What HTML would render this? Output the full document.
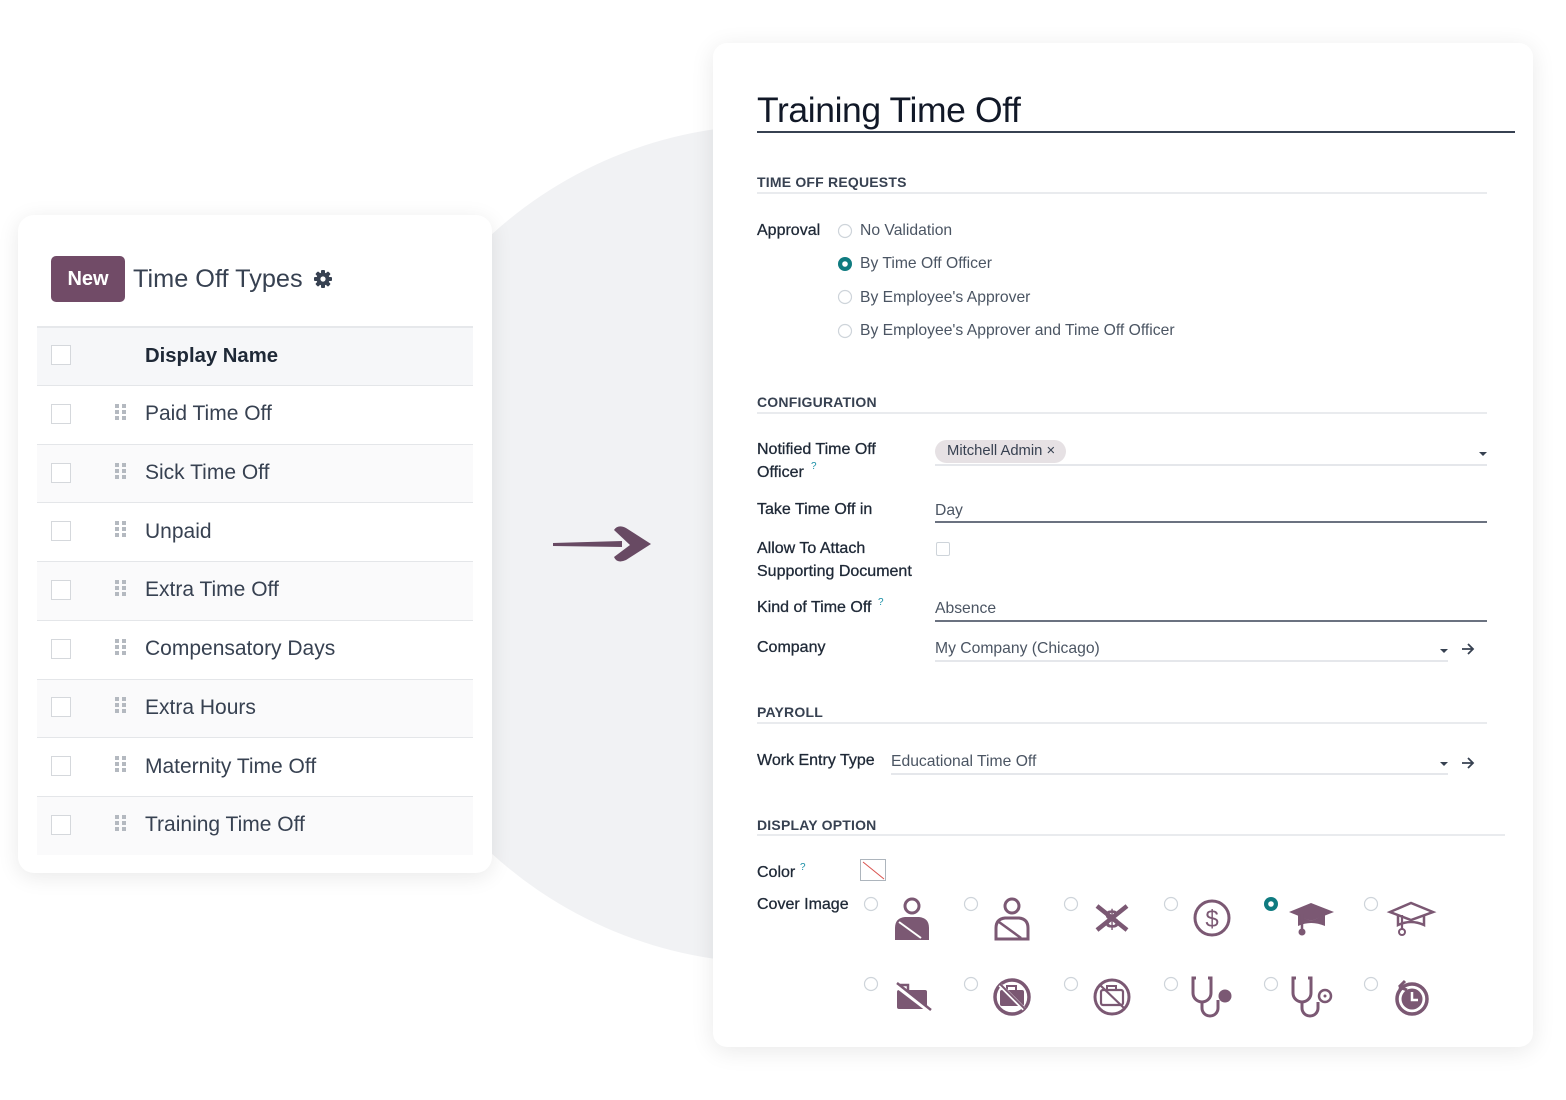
<!DOCTYPE html>
<html><head><meta charset="utf-8">
<style>
html,body{margin:0;padding:0;background:#fff;}
body{width:1566px;height:1100px;position:relative;overflow:hidden;font-family:"Liberation Sans",sans-serif;}
.abs{position:absolute;}
.t{position:absolute;white-space:nowrap;line-height:20px;}
.card{position:absolute;background:#fff;}
.lbl{font-size:16px;color:#1f2937;-webkit-text-stroke:0.3px #1f2937;}
.val{font-size:15.7px;color:#4b5563;}
.sec{font-size:14px;font-weight:bold;color:#374151;letter-spacing:0.2px;}
.hl{position:absolute;height:2px;background:#e9ebee;}
.row{position:absolute;left:37px;width:436px;height:58px;border-top:1px solid #e4e6e9;}
.cb{position:absolute;left:51px;width:20px;height:20px;border:1px solid #d5d8dc;background:#fff;box-sizing:border-box;}
.name{position:absolute;left:145px;font-size:21px;color:#374151;line-height:24px;white-space:nowrap;}
.q{position:absolute;font-size:10px;color:#1a8fa6;}
</style></head>
<body>
<svg class="abs" style="left:0;top:0;z-index:0" width="1566" height="1100">
  <circle cx="774" cy="544" r="419" fill="#f1f2f4"/>
</svg>

<div class="card" style="left:18px;top:215px;width:474px;height:658px;border-radius:16px;box-shadow:0 4px 22px rgba(0,0,0,0.09);z-index:1;">
</div>
<div class="abs" style="left:0;top:0;z-index:2;width:1566px;height:1100px;">
  <div class="abs" style="left:51px;top:256px;width:74px;height:46px;background:#714b67;border-radius:5px;"></div>
  <div class="t" style="left:51px;top:268px;width:74px;text-align:center;color:#fff;font-weight:bold;font-size:20px;line-height:22px;">New</div>
  <div class="t" style="left:133px;top:265px;font-size:25.3px;line-height:28px;color:#374151;">Time Off Types</div>
  <svg class="abs" style="left:313px;top:269px" width="20" height="20" viewBox="0 0 20 20">
    <g fill="#374151" transform="translate(10,10)">
      <circle r="6.5"/>
      <rect x="-2" y="-9" width="4" height="18" rx="1"/>
      <rect x="-2" y="-9" width="4" height="18" rx="1" transform="rotate(45)"/>
      <rect x="-2" y="-9" width="4" height="18" rx="1" transform="rotate(90)"/>
      <rect x="-2" y="-9" width="4" height="18" rx="1" transform="rotate(135)"/>
      <circle r="2.6" fill="#fff"/>
    </g>
  </svg>

  <div class="row" style="top:326px;height:58px;background:#f6f7f9;border-top:2px solid #e6e8eb;"></div>
  <div class="cb" style="top:345px;"></div>
  <div class="t" style="left:145px;top:343px;font-size:20.3px;line-height:26px;font-weight:bold;color:#1f2937;">Display Name</div>

  <div class="row" style="top:385px;background:#fff;"></div>
  <div class="row" style="top:444px;background:#fafafb;"></div>
  <div class="row" style="top:502px;background:#fff;"></div>
  <div class="row" style="top:561px;background:#fafafb;"></div>
  <div class="row" style="top:620px;background:#fff;"></div>
  <div class="row" style="top:679px;background:#fafafb;"></div>
  <div class="row" style="top:737px;background:#fff;"></div>
  <div class="row" style="top:796px;background:#fafafb;"></div>

  <div class="cb" style="top:404px;"></div><div class="name" style="top:402px;">Paid Time Off</div>
  <div class="cb" style="top:463px;"></div><div class="name" style="top:461px;">Sick Time Off</div>
  <div class="cb" style="top:521px;"></div><div class="name" style="top:520px;">Unpaid</div>
  <div class="cb" style="top:580px;"></div><div class="name" style="top:578px;">Extra Time Off</div>
  <div class="cb" style="top:639px;"></div><div class="name" style="top:637px;">Compensatory Days</div>
  <div class="cb" style="top:697px;"></div><div class="name" style="top:696px;">Extra Hours</div>
  <div class="cb" style="top:756px;"></div><div class="name" style="top:755px;">Maternity Time Off</div>
  <div class="cb" style="top:815px;"></div><div class="name" style="top:813px;">Training Time Off</div>

  <svg class="abs" style="left:0;top:0" width="500" height="900">
    <g fill="#b4b9c0">
      <g transform="translate(115,404)"><rect x="0" y="0" width="4" height="4"/><rect x="7" y="0" width="4" height="4"/><rect x="0" y="6" width="4" height="4"/><rect x="7" y="6" width="4" height="4"/><rect x="0" y="12" width="4" height="4"/><rect x="7" y="12" width="4" height="4"/></g>
      <g transform="translate(115,463)"><rect x="0" y="0" width="4" height="4"/><rect x="7" y="0" width="4" height="4"/><rect x="0" y="6" width="4" height="4"/><rect x="7" y="6" width="4" height="4"/><rect x="0" y="12" width="4" height="4"/><rect x="7" y="12" width="4" height="4"/></g>
      <g transform="translate(115,521)"><rect x="0" y="0" width="4" height="4"/><rect x="7" y="0" width="4" height="4"/><rect x="0" y="6" width="4" height="4"/><rect x="7" y="6" width="4" height="4"/><rect x="0" y="12" width="4" height="4"/><rect x="7" y="12" width="4" height="4"/></g>
      <g transform="translate(115,580)"><rect x="0" y="0" width="4" height="4"/><rect x="7" y="0" width="4" height="4"/><rect x="0" y="6" width="4" height="4"/><rect x="7" y="6" width="4" height="4"/><rect x="0" y="12" width="4" height="4"/><rect x="7" y="12" width="4" height="4"/></g>
      <g transform="translate(115,639)"><rect x="0" y="0" width="4" height="4"/><rect x="7" y="0" width="4" height="4"/><rect x="0" y="6" width="4" height="4"/><rect x="7" y="6" width="4" height="4"/><rect x="0" y="12" width="4" height="4"/><rect x="7" y="12" width="4" height="4"/></g>
      <g transform="translate(115,697)"><rect x="0" y="0" width="4" height="4"/><rect x="7" y="0" width="4" height="4"/><rect x="0" y="6" width="4" height="4"/><rect x="7" y="6" width="4" height="4"/><rect x="0" y="12" width="4" height="4"/><rect x="7" y="12" width="4" height="4"/></g>
      <g transform="translate(115,756)"><rect x="0" y="0" width="4" height="4"/><rect x="7" y="0" width="4" height="4"/><rect x="0" y="6" width="4" height="4"/><rect x="7" y="6" width="4" height="4"/><rect x="0" y="12" width="4" height="4"/><rect x="7" y="12" width="4" height="4"/></g>
      <g transform="translate(115,815)"><rect x="0" y="0" width="4" height="4"/><rect x="7" y="0" width="4" height="4"/><rect x="0" y="6" width="4" height="4"/><rect x="7" y="6" width="4" height="4"/><rect x="0" y="12" width="4" height="4"/><rect x="7" y="12" width="4" height="4"/></g>
    </g>
  </svg>
</div>

<svg class="abs" style="left:0;top:0;z-index:2" width="700" height="700">
  <path d="M553 543 L622 541 L622 547 L553 546 Z" fill="#684a63"/>
  <path d="M614 530 Q618 524 626 528 L651 544 L626 560 Q617 564 614 557 L630 545 Z" fill="#684a63"/>
</svg>

<div class="card" style="left:713px;top:43px;width:820px;height:1004px;border-radius:14px;box-shadow:0 4px 24px rgba(0,0,0,0.09);z-index:1;"></div>
<div class="abs" style="left:0;top:0;z-index:2;width:1566px;height:1100px;">
  <div class="t" style="left:757px;top:89px;font-size:35.5px;line-height:42px;color:#111827;letter-spacing:-0.4px;">Training Time Off</div>
  <div class="abs" style="left:757px;top:131px;width:758px;height:2px;background:#374151;"></div>

  <div class="t sec" style="left:757px;top:172px;">TIME OFF REQUESTS</div>
  <div class="hl" style="left:757px;top:192px;width:730px;"></div>

  <div class="t lbl" style="left:757px;top:221px;">Approval</div>
  <div class="t val" style="left:860px;top:221px;">No Validation</div>
  <div class="t val" style="left:860px;top:254px;">By Time Off Officer</div>
  <div class="t val" style="left:860px;top:288px;">By Employee's Approver</div>
  <div class="t val" style="left:860px;top:321px;">By Employee's Approver and Time Off Officer</div>

  <div class="t sec" style="left:757px;top:392px;">CONFIGURATION</div>
  <div class="hl" style="left:757px;top:412px;width:730px;"></div>

  <div class="t lbl" style="left:757px;top:440px;">Notified Time Off</div>
  <div class="t lbl" style="left:757px;top:463px;">Officer</div>
  <div class="q" style="left:811px;top:461px;">?</div>
  <div class="abs" style="left:935px;top:440px;width:131px;height:23px;background:#e6e1e4;border-radius:12px;"></div>
  <div class="t" style="left:947px;top:441px;font-size:14.8px;color:#374151;">Mitchell Admin ×</div>
  <div class="abs" style="left:935px;top:464px;width:552px;height:2px;background:#e5e7eb;"></div>

  <div class="t lbl" style="left:757px;top:500px;">Take Time Off in</div>
  <div class="t val" style="left:935px;top:501px;">Day</div>
  <div class="abs" style="left:935px;top:521px;width:552px;height:2px;background:#6b7280;"></div>

  <div class="t lbl" style="left:757px;top:539px;">Allow To Attach</div>
  <div class="t lbl" style="left:757px;top:562px;">Supporting Document</div>
  <div class="abs" style="left:936px;top:542px;width:14px;height:14px;border:1px solid #ced4da;box-sizing:border-box;border-radius:2px;"></div>

  <div class="t lbl" style="left:757px;top:598px;">Kind of Time Off</div>
  <div class="q" style="left:878px;top:597px;">?</div>
  <div class="t val" style="left:935px;top:599px;">Absence</div>
  <div class="abs" style="left:935px;top:620px;width:552px;height:2px;background:#6b7280;"></div>

  <div class="t lbl" style="left:757px;top:638px;">Company</div>
  <div class="t val" style="left:935px;top:639px;">My Company (Chicago)</div>
  <div class="abs" style="left:935px;top:660px;width:513px;height:2px;background:#e5e7eb;"></div>

  <div class="t sec" style="left:757px;top:702px;">PAYROLL</div>
  <div class="hl" style="left:757px;top:722px;width:730px;"></div>

  <div class="t lbl" style="left:757px;top:751px;">Work Entry Type</div>
  <div class="t val" style="left:891px;top:752px;">Educational Time Off</div>
  <div class="abs" style="left:891px;top:773px;width:557px;height:2px;background:#e5e7eb;"></div>

  <div class="t sec" style="left:757px;top:815px;">DISPLAY OPTION</div>
  <div class="hl" style="left:757px;top:834px;width:748px;"></div>

  <div class="t lbl" style="left:757px;top:863px;">Color</div>
  <div class="q" style="left:800px;top:862px;">?</div>
  <div class="t lbl" style="left:757px;top:895px;">Cover Image</div>

  <svg class="abs" style="left:0;top:0" width="1566" height="1100">
    <g fill="#fff" stroke="#ced4da" stroke-width="1.2">
      <circle cx="845" cy="231" r="6.5"/>
      <circle cx="845" cy="297" r="6.5"/>
      <circle cx="845" cy="331" r="6.5"/>
    </g>
    <circle cx="845" cy="264" r="7" fill="#0f7b80"/>
    <circle cx="845" cy="264" r="2.8" fill="#fff"/>
    <g fill="#374151">
      <path d="M1479 452 h8 l-4 4 z"/>
      <path d="M1440 649 h8 l-4 4 z"/>
      <path d="M1440 762 h8 l-4 4 z"/>
    </g>
    <g stroke="#374151" stroke-width="1.8" fill="none">
      <path d="M1462 649 h11 M1468 644 l5 5 l-5 5"/>
      <path d="M1462 763 h11 M1468 758 l5 5 l-5 5"/>
    </g>
    <rect x="860.5" y="859.5" width="25" height="21" fill="#fff" stroke="#adb5bd"/>
    <line x1="863" y1="862" x2="884" y2="879" stroke="#d9534f" stroke-width="1"/>
    <g fill="#fff" stroke="#ced4da" stroke-width="1.2">
      <circle cx="871" cy="904" r="6.5"/>
      <circle cx="971" cy="904" r="6.5"/>
      <circle cx="1071" cy="904" r="6.5"/>
      <circle cx="1171" cy="904" r="6.5"/>
      <circle cx="1371" cy="904" r="6.5"/>
      <circle cx="871" cy="984" r="6.5"/>
      <circle cx="971" cy="984" r="6.5"/>
      <circle cx="1071" cy="984" r="6.5"/>
      <circle cx="1171" cy="984" r="6.5"/>
      <circle cx="1271" cy="984" r="6.5"/>
      <circle cx="1371" cy="984" r="6.5"/>
    </g>
    <circle cx="1271" cy="904" r="7" fill="#0f7b80"/>
    <circle cx="1271" cy="904" r="2.8" fill="#fff"/>

    <g fill="#7b5873" stroke="#7b5873">
      <circle cx="912" cy="906" r="7" fill="none" stroke-width="3"/>
      <path d="M895 940 V928 Q895 918 905 917 L919 917 Q929 918 929 928 V940 Z" stroke="none"/>
      <path d="M899 922 L921 938" stroke="#fff" stroke-width="2" fill="none"/>
      <circle cx="1012" cy="906" r="7" fill="none" stroke-width="3"/>
      <path d="M996 939 V928 Q996 919 1005 918 L1019 918 Q1028 919 1028 928 V939 Z" fill="none" stroke-width="3"/>
      <path d="M999 922 L1021 938" fill="none" stroke-width="2.5"/>
      <path d="M1097 906 L1127 930 M1097 930 L1127 906" fill="none" stroke-width="4.5"/>
      <text x="1112" y="928" font-size="26" font-weight="bold" text-anchor="middle" stroke="none" font-family="Liberation Sans, sans-serif">$</text>
      <circle cx="1212" cy="918" r="17" fill="none" stroke-width="3"/>
      <text x="1212" y="927" font-size="24" text-anchor="middle" stroke="none" font-family="Liberation Sans, sans-serif">$</text>
      <path d="M1289 912 L1311 903 L1334 912 L1311 921 Z" stroke="none"/>
      <path d="M1298 915 V926 Q1311 920 1325 926 V915 L1311 921 Z" stroke="none"/>
      <path d="M1302 914 V930" fill="none" stroke-width="2.5"/>
      <circle cx="1302" cy="932" r="3.5" stroke="none"/>
      <path d="M1390 912 L1411 903 L1433 912 L1411 920 Z" fill="none" stroke-width="2.5"/>
      <path d="M1398 915 V925 Q1411 919 1424 925 V915" fill="none" stroke-width="2.5"/>
      <path d="M1402 915 V929" fill="none" stroke-width="2.2"/>
      <circle cx="1402" cy="932" r="3" fill="none" stroke-width="2"/>
      <rect x="900" y="985" width="8" height="6" fill="none" stroke-width="2.5"/>
      <rect x="897" y="990" width="30" height="19" rx="2" stroke="none"/>
      <path d="M896 985 L930 1011" stroke="#fff" stroke-width="5" fill="none"/>
      <path d="M897 983 L931 1010" stroke-width="2.5" fill="none"/>
      <circle cx="1012" cy="997" r="17" fill="none" stroke-width="3.5"/>
      <rect x="1000" y="990" width="24" height="16" rx="2" stroke="none"/>
      <rect x="1007" y="986" width="9" height="5" fill="none" stroke-width="2"/>
      <path d="M1000 985 L1024 1009" stroke="#fff" stroke-width="4" fill="none"/>
      <path d="M1000 984 L1025 1009" stroke-width="2" fill="none"/>
      <circle cx="1112" cy="997" r="17" fill="none" stroke-width="3"/>
      <rect x="1101" y="990" width="22" height="15" rx="2" fill="none" stroke-width="2.2"/>
      <rect x="1107" y="986" width="9" height="4" fill="none" stroke-width="2"/>
      <path d="M1100 985 L1125 1009" stroke-width="2.2" fill="none"/>
      <path d="M1196 978 H1193 V993 A9 9 0 0 0 1211 993 V978 H1208" fill="none" stroke-width="3"/>
      <path d="M1202 1002 V1008 A8 8 0 0 0 1218 1008 V1000" fill="none" stroke-width="3"/>
      <circle cx="1225" cy="996" r="6.5" stroke="none"/>
      <path d="M1296 978 H1293 V993 A9 9 0 0 0 1311 993 V978 H1308" fill="none" stroke-width="3"/>
      <path d="M1302 1002 V1008 A8 8 0 0 0 1318 1008 V1002" fill="none" stroke-width="3"/>
      <circle cx="1325" cy="996" r="6" fill="none" stroke-width="2.5"/>
      <circle cx="1325" cy="996" r="1.5" stroke="none"/>
      <circle cx="1412" cy="999" r="15" fill="none" stroke-width="3.5"/>
      <circle cx="1412" cy="999" r="10.5" stroke="none"/>
      <path d="M1399 987 L1405 981 M1399 987 L1407 990" stroke-width="3" fill="none"/>
      <path d="M1412 992 V1000 H1418" stroke="#fff" stroke-width="2.5" fill="none"/>
    </g>
  </svg>
</div>
</body></html>
